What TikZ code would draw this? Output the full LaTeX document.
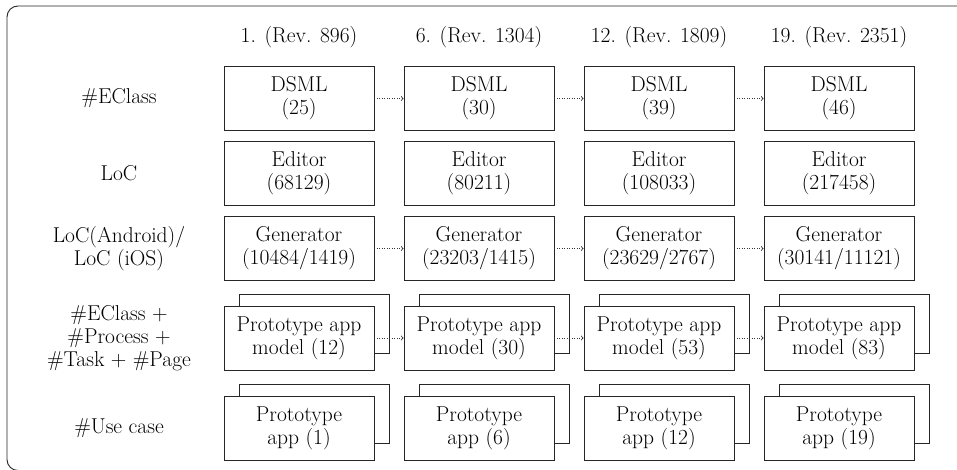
\documentclass[tikz,border=0pt]{standalone}
\usetikzlibrary{arrows}
\newcommand\diafont{\fontsize{21.5}{23}\selectfont}
\begin{document}
\begin{tikzpicture}[x=1pt,y=-1pt,
  line/.style={draw=black!85, line width=0.9pt},
  stagebox/.style={line, fill=white, minimum width=150pt, minimum height=64pt,
    inner sep=0pt, align=center, font=\diafont},
  backbox/.style={line, minimum width=150pt, minimum height=59pt, inner sep=0pt},
  rowlabel/.style={align=center, font=\diafont, inner sep=0pt},
  header/.style={anchor=base, font=\diafont, inner sep=0pt},
  flow/.style={draw=black!80, line width=0.8pt, dash pattern=on 1pt off 1.5pt, -to}]
\useasboundingbox (0,0) rectangle (957,470);
\clip (0,0) rectangle (957,470);
% outer frame, open on the right
\draw[line, rounded corners=11pt] (980,6) -- (7,6) -- (7,470.5) -- (980,470.5);

% column headers
\node[header] (h1) at (299,43) {1. (Rev. 896)};
\node[header] (h2) at (479,43) {6. (Rev. 1304)};
\node[header] (h3) at (659,43) {12. (Rev. 1809)};
\node[header] (h4) at (839,43) {19. (Rev. 2351)};

% row labels
\node[rowlabel] (l1) at (119,98.5) {\#EClass};
\node[rowlabel] (l2) at (119,173.5) {LoC};
\node[rowlabel] (l3) at (119,248.5) {LoC(Android)/\\LoC (iOS)};
\node[rowlabel] (l4) at (119,338) {\#EClass +\\\#Process +\\\#Task + \#Page};
\node[rowlabel] (l5) at (119,428) {\#Use case};

% DSML
\node[stagebox] (d1) at (299,98.5) {DSML\\(25)};
\node[stagebox] (d2) at (479,98.5) {DSML\\(30)};
\node[stagebox] (d3) at (659,98.5) {DSML\\(39)};
\node[stagebox] (d4) at (839,98.5) {DSML\\(46)};

% Editor
\node[stagebox] (e1) at (299,173.5) {Editor\\(68129)};
\node[stagebox] (e2) at (479,173.5) {Editor\\(80211)};
\node[stagebox] (e3) at (659,173.5) {Editor\\(108033)};
\node[stagebox] (e4) at (839,173.5) {Editor\\(217458)};

% Generator
\node[stagebox] (g1) at (299,248.5) {Generator\\(10484/1419)};
\node[stagebox] (g2) at (479,248.5) {Generator\\(23203/1415)};
\node[stagebox] (g3) at (659,248.5) {Generator\\(23629/2767)};
\node[stagebox] (g4) at (839,248.5) {Generator\\(30141/11121)};

% Prototype app models (stacked)
\foreach \i/\x in {1/299,2/479,3/659,4/839}{
  \node[backbox] (mb\i) at (\x+15,323.5) {};
  \node[backbox] (ab\i) at (\x+15,413.5) {};
}
\node[stagebox] (m1) at (299,338) {Prototype app\\model (12)};
\node[stagebox] (m2) at (479,338) {Prototype app\\model (30)};
\node[stagebox] (m3) at (659,338) {Prototype app\\model (53)};
\node[stagebox] (m4) at (839,338) {Prototype app\\model (83)};

% Prototype apps (stacked)
\node[stagebox] (a1) at (299,428) {Prototype\\app (1)};
\node[stagebox] (a2) at (479,428) {Prototype\\app (6)};
\node[stagebox] (a3) at (659,428) {Prototype\\app (12)};
\node[stagebox] (a4) at (839,428) {Prototype\\app (19)};

% evolution arrows
\draw[flow] (d1) -- (d2);
\draw[flow] (d2) -- (d3);
\draw[flow] (d3) -- (d4);
\draw[flow] (g1) -- (g2);
\draw[flow] (g2) -- (g3);
\draw[flow] (g3) -- (g4);
\draw[flow] (m1) -- (m2);
\draw[flow] (m2) -- (m3);
\draw[flow] (m3) -- (m4);
\end{tikzpicture}
\end{document}
